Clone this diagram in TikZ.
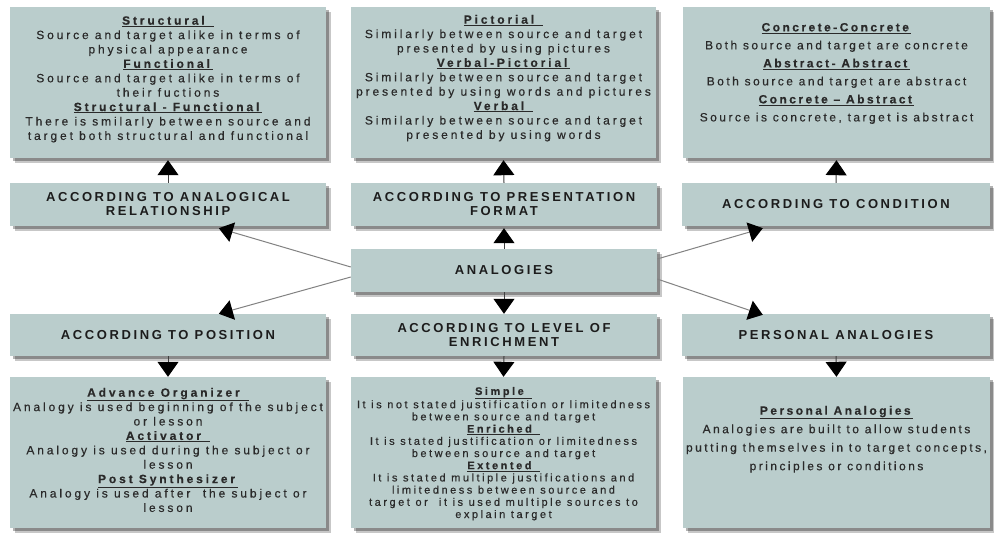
\documentclass[tikz,border=0pt]{standalone}
\usepackage{fontspec}
\setmainfont{Liberation Sans}
\newfontfamily\bodyf{Liberation Sans}[LetterSpace=24,FakeBold=0.35]
\newfontfamily\bodyg{Liberation Sans}[LetterSpace=20.5,FakeBold=0.35]
\newfontfamily\bodyh{Liberation Sans}[LetterSpace=23,FakeBold=0.35]
\newfontfamily\headf{Liberation Sans}[LetterSpace=20]
\usetikzlibrary{arrows.meta,shadows}
\definecolor{boxfill}{RGB}{186,205,204}
\definecolor{txtc}{RGB}{42,42,42}
\definecolor{headc}{RGB}{28,28,28}
\definecolor{linec}{RGB}{130,130,130}
\newcommand{\ttl}[1]{\underline{\textbf{#1}}}
\tikzset{
  box/.style={fill=boxfill, draw=none, inner sep=0pt,
    drop shadow={shadow xshift=5pt, shadow yshift=-5pt, fill=black, opacity=0.22},
    drop shadow={shadow xshift=3pt, shadow yshift=-3pt, fill=black, opacity=0.3}},
  tall/.style={box, minimum height=151pt},
  head/.style={box, minimum height=43pt, text=headc, align=center,
    font=\headf\fontsize{13}{14}\selectfont\bfseries},
  body/.style={anchor=north, inner sep=0pt, text=txtc, align=center,
    font=\bodyf\fontsize{12}{14.4}\selectfont},
  conn/.style={draw=linec, line width=1pt,
    -{Triangle[width=20pt,length=14pt,color=black,fill=black]}},
  vconn/.style={draw=black!75, line width=1pt,
    -{Triangle[width=21pt,length=15pt,color=black,fill=black]}},
}
\begin{document}
\begin{tikzpicture}[x=1pt,y=-1pt]
\useasboundingbox[fill=white] (0,0) rectangle (994,538);
% top row
\node[tall, minimum width=316pt] (t1) at (168,82.5) {};
\node[tall, minimum width=305pt] (t2) at (503.5,82.5) {};
\node[tall, minimum width=307pt] (t3) at (836.5,82.5) {};
% header row
\node[head, minimum width=316pt] (h1) at (168,204.5) {ACCORDING TO ANALOGICAL\\RELATIONSHIP};
\node[head, minimum width=306pt] (h2) at (504,204.5) {ACCORDING TO PRESENTATION\\FORMAT};
\node[head, minimum width=308pt] (h3) at (836,204.5) {ACCORDING TO CONDITION};
% center
\node[head, minimum width=306pt] (ana) at (504,270.5) {ANALOGIES};
% lower header row
\node[head, minimum width=316pt, minimum height=42pt] (p1) at (168,335) {ACCORDING TO POSITION};
\node[head, minimum width=306pt, minimum height=42pt] (p2) at (504,335) {ACCORDING TO LEVEL OF\\ENRICHMENT};
\node[head, minimum width=308pt, minimum height=42pt] (p3) at (836,335) {PERSONAL ANALOGIES};
% bottom row
\node[tall, minimum width=316pt] (b1) at (168,452.5) {};
\node[tall, minimum width=305pt] (b2) at (503.5,452.5) {};
\node[tall, minimum width=307pt] (b3) at (836.5,452.5) {};
% texts
\node[body] (t1x) at ([yshift=-9pt]t1.north) {\ttl{Structural\ }\\
Source and target alike in terms of\\
physical appearance\\
\ttl{Functional}\\
Source and target alike in terms of\\
their fuctions\\
\ttl{Structural - Functional}\\
There is smilarly between source and\\
target both structural and functional};
\node[body] (t2x) at ([yshift=-8pt]t2.north) {\ttl{Pictorial\ }\\
Similarly between source and target\\
presented by using pictures\\
\ttl{Verbal-Pictorial}\\
Similarly between source and target\\
presented by using words and pictures\\
\ttl{Verbal\ }\\
Similarly between source and target\\
presented by using words};
\node[body, font=\bodyg\fontsize{12}{18}\selectfont] (t3x) at ([yshift=-16pt]t3.north) {\ttl{Concrete-Concrete}\\
Both source and target are concrete\\
\ttl{Abstract- Abstract}\\
Both source and target are abstract\\
\ttl{Concrete – Abstract}\\
Source is concrete, target is abstract};
\node[body] (b1x) at ([yshift=-11pt]b1.north) {\ttl{Advance Organizer\ }\\
Analogy is used beginning of the subject\\
or lesson\\
\ttl{Activator\ }\\
Analogy is used during the subject or\\
lesson\\
\ttl{Post Synthesizer}\\
Analogy is used after\ \ the subject or\\
lesson};
\node[body, font=\bodyh\fontsize{11}{12.2}\selectfont] (b2x) at ([yshift=-10pt]b2.north) {\ttl{Simple\ }\\
It is not stated justification or limitedness\\
between source and target\\
\ttl{Enriched\ }\\
It is stated justification or limitedness\\
between source and target\\
\ttl{Extented\ }\\
It is stated multiple justifications and\\
limitedness between source and\\
target or\ \ it is used multiple sources to\\
explain target};
\node[body, font=\bodyg\fontsize{12}{18.5}\selectfont] (b3x) at ([yshift=-29pt]b3.north) {\ttl{Personal Analogies}\\
Analogies are built to allow students\\
putting themselves in to target concepts,\\
principles or conditions};
% end points
\coordinate (e1) at ([xshift=209pt,yshift=-2pt]h1.south west);
\coordinate (e3) at ([xshift=81pt,yshift=-2pt]h3.south west);
\coordinate (e4) at ([xshift=209pt]p1.north west);
\coordinate (e6) at ([xshift=81pt,yshift=-1pt]p3.north west);
% connectors
\draw[vconn] (h1.north) -- ([yshift=-2pt]t1.south);
\draw[vconn] (h2.north) -- ([yshift=-2pt]t2.south);
\draw[vconn] (h3.north) -- ([yshift=-2pt]t3.south);
\draw[vconn] (ana.north) -- ([yshift=-2pt]h2.south);
\draw[vconn] (ana.south) -- (p2.north);
\draw[vconn] (p1.south) -- (b1.north);
\draw[vconn] (p2.south) -- (b2.north);
\draw[vconn] (p3.south) -- (b3.north);
\draw[conn] ([yshift=3.5pt]ana.west) -- (e1);
\draw[conn] ([yshift=-6.5pt]ana.west) -- (e4);
\draw[conn] ([yshift=11.5pt]ana.east) -- (e3);
\draw[conn] ([yshift=-8.5pt]ana.east) -- (e6);
\end{tikzpicture}
\end{document}
